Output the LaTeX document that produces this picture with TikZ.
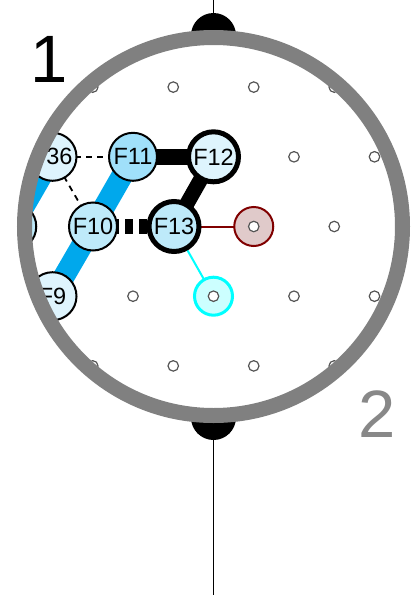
\documentclass[tikz,border=0pt]{standalone}
\usepackage{fontspec}
\setmainfont{Liberation Sans}
\usetikzlibrary{backgrounds}
\pgfdeclarelayer{bottom}
\pgfsetlayers{bottom,background,main}
\definecolor{pale}{RGB}{222,244,253}
\definecolor{midblue}{RGB}{190,234,250}
\definecolor{deepblue}{RGB}{160,224,250}
\definecolor{bandblue}{RGB}{0,168,236}
\definecolor{ringgray}{RGB}{128,128,128}
\definecolor{dred}{RGB}{128,0,0}
\definecolor{rfill}{RGB}{224,202,202}
\definecolor{cfill}{RGB}{204,255,255}
\definecolor{pcyan}{RGB}{0,255,255}
\definecolor{twogray}{RGB}{136,136,136}
\definecolor{dotgray}{RGB}{85,85,85}
\begin{document}
\begin{tikzpicture}[x=1pt,y=-1pt,
  fnode/.style={circle,draw=black,line width=2pt,minimum size=48pt,inner sep=0pt,
    font=\fontsize{23.5}{24}\selectfont},
  fthick/.style={fnode,line width=5pt,minimum size=50pt},
  gdot/.style={circle,draw=dotgray,line width=1.2pt,fill=white,minimum size=10.5pt,inner sep=0pt},
  rnode/.style={circle,draw=dred,fill=rfill,line width=2pt,minimum size=39pt,inner sep=0pt},
  cnode/.style={circle,draw=pcyan,fill=cfill,line width=3pt,minimum size=38pt,inner sep=0pt},
  bandedge/.style={draw=bandblue,line width=21.5pt},
  boldedge/.style={draw=black,line width=15.5pt},
  thindash/.style={draw=black,line width=1.8pt,dash pattern=on 6pt off 5pt,dash phase=10.5pt},
  bigdash/.style={draw=black,line width=15pt,dash pattern=on 8pt off 6pt,dash phase=9.75pt},
  bignum/.style={anchor=base,inner sep=0pt,font=\fontsize{67}{67}\selectfont},
  capstyle/.style={fill=black}
]
\useasboundingbox (0,0) rectangle (412,595);
\begin{pgfonlayer}{bottom}
  \fill[white] (0,0) rectangle (412,595);
\end{pgfonlayer}

% clipped view content
\begin{scope}
  \clip (213.5,226.5) circle (189pt);
  \node[rnode] (R) at (253.75,226.5) {};
  \node[cnode] (C) at (213.5,296.2) {};
  \foreach \r in {-2,0,2} {
    \foreach \m in {-3,...,3} {
      \node[gdot] (g\r\m) at ({173.25+\m*80.5},{226.5+\r*69.7}) {};
    }
  }
  \foreach \r in {-1,1} {
    \foreach \m in {-3,...,3} {
      \node[gdot] (h\r\m) at ({213.5+\m*80.5},{226.5+\r*69.7}) {};
    }
  }
  \node[fnode,fill=pale] (F36) at (52.5,156.8) {};
  \node[inner sep=0pt,font=\fontsize{23.5}{24}\selectfont] (t36) at (59.5,156.8) {36};
  \node[fnode,fill=deepblue] (F11) at (133,156.8) {F11};
  \node[fthick,fill=pale] (F12) at (213.5,156.8) {F12};
  \node[fnode,fill=midblue] (F8) at (12.25,226.5) {};
  \node[fnode,fill=midblue] (F10) at (93,226.5) {F10};
  \node[fthick,fill=midblue] (F13) at (174,226.5) {F13};
  \node[fnode,fill=pale] (F9) at (52.5,296.2) {F9};
\end{scope}

% connectors, under the nodes
\begin{scope}[on background layer]
  \clip (213.5,226.5) circle (189pt);
  \draw[bandedge] (F36.center) -- (F8.center);
  \draw[bandedge] (F11.center) -- (F10.center) -- (F9.center);
  \draw[boldedge,line width=16pt] (F11.center) -- (F12.center);
  \draw[boldedge,line width=15pt] (F12.center) -- (F13.center);
  \draw[bigdash] (F10.center) -- (F13.center);
  \draw[thindash] (F36.center) -- (F11.center);
  \draw[thindash] (F36.center) -- (F10.center);
  \draw[dred,line width=2pt] (F13.center) -- (R.center);
  \draw[pcyan,line width=2pt] (F13.center) -- (C.center);
\end{scope}

% caps and wires
\coordinate (topcap) at (213.5,35.5);
\coordinate (botcap) at (213.5,417.5);
\coordinate (topend) at (213.5,0);
\coordinate (botend) at (213.5,595);
\draw[line width=1.8pt] (topend) -- (topcap);
\draw[line width=1.8pt] (botcap) -- (botend);
\fill[capstyle] (191,35.5) arc (180:0:22.5pt) -- cycle;
\fill[capstyle] (191,417.5) arc (180:360:22.5pt) -- cycle;

% ring
\node[circle,draw=ringgray,line width=15pt,minimum size=378pt,inner sep=0pt] (view) at (213.5,226.5) {};

% labels
\node[bignum] (one) at (49.5,82) {1};
\node[bignum,text=twogray] (two) at (377,437) {2};
\end{tikzpicture}
\end{document}
